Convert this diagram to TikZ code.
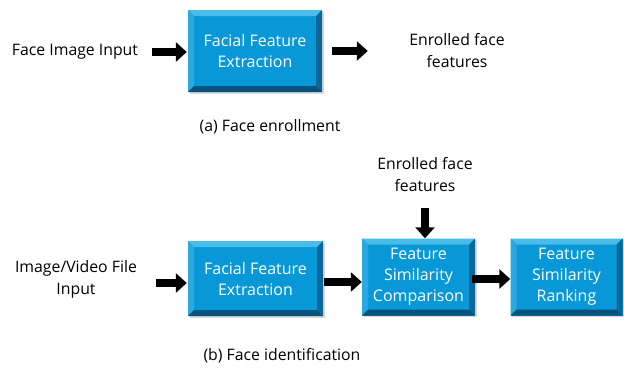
\documentclass[tikz,border=0pt]{standalone}
\usepackage{fontspec}
\setmainfont{Open Sans}
\usetikzlibrary{arrows.meta,positioning,shadows}

\definecolor{boxblue}{HTML}{0898D7}
\definecolor{bevtop}{HTML}{4ABCEA}
\definecolor{bevleft}{HTML}{2AA8E0}
\definecolor{bevright}{HTML}{0B6799}
\definecolor{bevbot}{HTML}{09527C}

\tikzset{
  featbox/.style={rectangle, fill=boxblue, text=white, align=center,
    inner sep=0pt, font=\fontsize{16}{21}\selectfont,
    drop shadow={shadow xshift=1.5pt, shadow yshift=-1.5pt, opacity=0.3},
    path picture={
      \coordinate (sw) at (path picture bounding box.south west);
      \coordinate (ne) at (path picture bounding box.north east);
      \coordinate (nw) at (sw |- ne);
      \coordinate (se) at (ne |- sw);
      \fill[bevtop] (nw) -- (ne) -- ([shift={(-6pt,-6pt)}]ne) -- ([shift={(6pt,-6pt)}]nw) -- cycle;
      \fill[bevleft] (nw) -- (sw) -- ([shift={(6pt,6pt)}]sw) -- ([shift={(6pt,-6pt)}]nw) -- cycle;
      \fill[bevright] (ne) -- (se) -- ([shift={(-6pt,6pt)}]se) -- ([shift={(-6pt,-6pt)}]ne) -- cycle;
      \fill[bevbot] (sw) -- (se) -- ([shift={(-6pt,6pt)}]se) -- ([shift={(6pt,6pt)}]sw) -- cycle;
    }},
  txtlabel/.style={align=center, font=\fontsize{15.8}{22}\selectfont},
  blockarrow/.style={line width=8pt, -{Triangle[length=11pt,width=19pt]}}
}

\begin{document}
\begin{tikzpicture}[x=1pt,y=-1pt]
\useasboundingbox (0,0) rectangle (624,367);

% (a) enrollment
\node[txtlabel] (faceimg) at (75,52) {Face Image Input};
\node[featbox, minimum width=134pt, minimum height=82pt] (extract1) at (255,51) {Facial Feature\\Extraction};
\node[txtlabel] (enrolled1) at (457,51) {Enrolled face\\features};
\node[txtlabel] (capa) at (270,127) {(a) Face enrollment};

\draw[blockarrow, shorten <=10pt, shorten >=1pt] (faceimg) -- (faceimg -| extract1.west);
\draw[blockarrow, shorten <=10pt, shorten >=38pt] (extract1) -- (extract1 -| enrolled1.west);

% (b) identification
\node[txtlabel] (videoin) at (76,279) {Image/Video File\\Input};
\node[featbox, minimum width=135pt, minimum height=75pt] (extract2) at (255.5,278.5) {Facial Feature\\Extraction};
\node[featbox, minimum width=113pt, minimum height=77pt] (compare) at (418.5,277) {Feature\\Similarity\\Comparison};
\node[featbox, minimum width=112pt, minimum height=77pt] (ranking) at (566.5,277) {Feature\\Similarity\\Ranking};
\node[txtlabel] (enrolled2) at (425,175) {Enrolled face\\features};
\node[txtlabel] (capb) at (282,356) {(b) Face identification};

\coordinate (vstart) at (156,283);
\draw[blockarrow, shorten >=1pt] (vstart) -- (vstart -| extract2.west);
\draw[blockarrow, shorten <=1pt] ([yshift=-3.5pt]extract2.east) -- ([yshift=-3.5pt]extract2.east -| compare.west);
\draw[blockarrow, shorten <=-3pt] ([yshift=-2pt]compare.east) -- ([yshift=-2pt]compare.east -| ranking.west);
\draw[blockarrow, shorten <=12pt] (enrolled2) -- (enrolled2 |- compare.north);
\end{tikzpicture}
\end{document}
